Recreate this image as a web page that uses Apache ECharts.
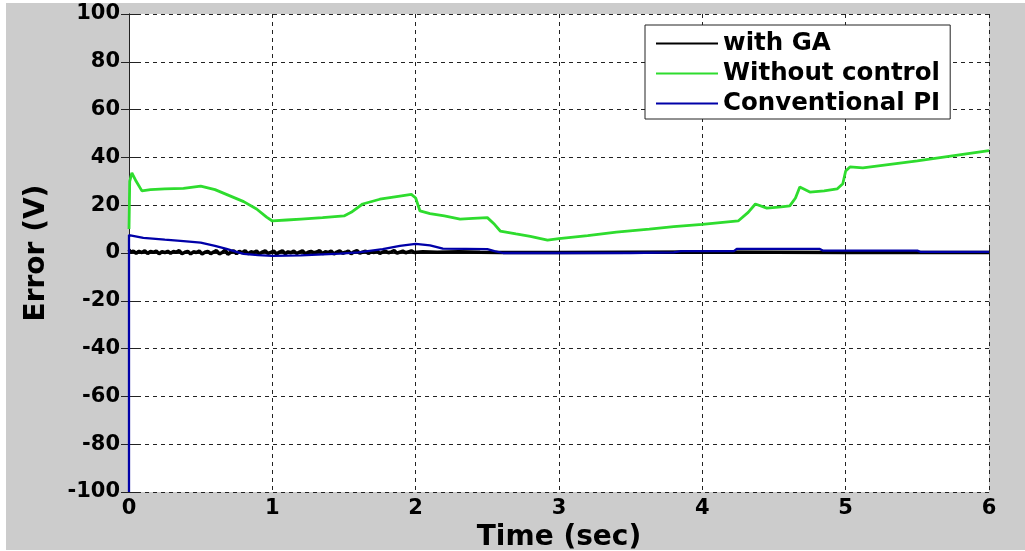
<!DOCTYPE html>
<html>
<head>
<meta charset="utf-8">
<script src="https://cdn.jsdelivr.net/npm/echarts@6/dist/echarts.min.js"></script>
<style>
html,body{margin:0;padding:0;background:#fff;}
#bg{position:absolute;left:6px;top:3px;width:1019px;height:547px;background:#cccccc;}
#chart{position:absolute;left:0;top:0;width:1025px;height:551px;}
</style>
</head>
<body>
<div id="bg"></div>
<div id="chart"></div>
<script>
// ---- data ----
const xTicks = [0, 1, 2, 3, 4, 5, 6];
const yTicks = [-100, -80, -60, -40, -20, 0, 20, 40, 60, 80, 100];

const gaTime = [0, 0.01, 0.03, 0.05, 0.07, 0.09, 0.11, 0.13, 0.15, 0.17, 0.19, 0.21, 0.23, 0.25, 0.27, 0.29, 0.31, 0.33, 0.35, 0.37, 0.39, 0.41, 0.43, 0.45, 0.47, 0.49, 0.51, 0.53, 0.55, 0.57, 0.59, 0.61, 0.63, 0.65, 0.67, 0.69, 0.71, 0.73, 0.75, 0.77, 0.79, 0.81, 0.83, 0.85, 0.87, 0.89, 0.91, 0.93, 0.95, 0.97, 0.99, 1.01, 1.03, 1.05, 1.07, 1.09, 1.11, 1.13, 1.15, 1.17, 1.19, 1.21, 1.23, 1.25, 1.27, 1.29, 1.31, 1.33, 1.35, 1.37, 1.39, 1.41, 1.43, 1.45, 1.47, 1.49, 1.51, 1.53, 1.55, 1.57, 1.59, 1.61, 1.63, 1.65, 1.67, 1.69, 1.71, 1.73, 1.75, 1.77, 1.79, 1.81, 1.83, 1.85, 1.87, 1.89, 1.91, 1.93, 1.95, 1.97, 1.99, 2.05, 2.15, 2.3, 2.45, 2.6, 3.0, 3.5, 4.0, 4.5, 5.0, 5.5, 6.0];
const gaError = [1.4, 0.3, 0.8, -0.1, 0.7, 0.2, 0.9, -0.2, 0.6, 0.3, 0.8, -0.3, 0.5, 0.2, 0.7, -0.1, 0.6, 0.3, 1.0, -0.3, 0.3, 0.7, -0.4, 0.5, 0.2, 0.8, -0.4, 0.3, 0.7, -0.3, 0.4, 1.0, -0.4, 0.2, 1.2, -0.5, 0.3, 0.9, -0.3, 0.7, 0.1, 1.0, -0.4, 0.5, 0.2, 0.8, -0.4, 0.4, 0.9, -0.2, 0.3, 0.8, -0.4, 0.4, 0.9, -0.3, 0.5, 0.1, 0.8, -0.2, 0.4, 0.9, -0.3, 0.3, 0.7, 0.1, 0.4, 1.0, -0.3, 0.5, 0.2, 0.8, -0.4, 0.4, 0.9, -0.1, 0.3, 0.8, -0.3, 0.5, 1.0, -0.1, 0.4, 0.8, -0.2, 0.5, 0.2, 0.9, -0.2, 0.4, 0.7, 0.1, 0.5, 1.0, -0.1, 0.4, 0.8, 0.1, 0.5, 0.9, 0.2, 0.5, 0.3, 0.5, 0.3, 0.2, 0.2, 0.3, 0.4, 0.3, 0.2, 0.2, 0.2];

const noCtrlTime = [0, 0.005, 0.02, 0.05, 0.09, 0.15, 0.25, 0.38, 0.5, 0.6, 0.7, 0.8, 0.89, 0.96, 1.0, 1.1, 1.2, 1.35, 1.5, 1.55, 1.63, 1.75, 1.89, 1.97, 2.0, 2.03, 2.1, 2.2, 2.31, 2.4, 2.5, 2.55, 2.59, 2.7, 2.8, 2.92, 3.0, 3.2, 3.4, 3.63, 3.8, 4.0, 4.25, 4.32, 4.37, 4.45, 4.55, 4.61, 4.65, 4.68, 4.75, 4.85, 4.94, 4.98, 5.0, 5.03, 5.12, 5.5, 6.0];
const noCtrlError = [10, 30, 33.5, 30, 26, 26.5, 26.8, 27, 28, 26.5, 24, 21.5, 18.4, 15, 13.4, 13.8, 14.2, 14.8, 15.5, 17, 20.5, 22.5, 23.8, 24.5, 23, 17.6, 16.5, 15.5, 14.2, 14.5, 14.8, 12, 9.2, 8, 7, 5.4, 6, 7.3, 8.7, 10, 11, 12, 13.4, 17, 20.5, 18.8, 19.3, 19.7, 23, 27.6, 25.5, 26, 26.8, 29, 34.3, 36, 35.6, 38.5, 42.8];

const piTime = [0, 0, 0.01, 0.1, 0.25, 0.38, 0.5, 0.6, 0.68, 0.75, 0.8, 0.9, 1.0, 1.2, 1.47, 1.6, 1.77, 1.89, 2.0, 2.1, 2.19, 2.35, 2.5, 2.55, 2.61, 2.8, 3.0, 3.5, 3.8, 3.85, 4.22, 4.24, 4.82, 4.84, 5.5, 5.52, 6.0];
const piError = [-100, 7.5, 7, 6.3, 5.6, 5, 4.3, 3, 1.7, 0.5, -0.4, -0.9, -1.2, -1, -0.3, 0.3, 1.6, 3, 3.8, 3.2, 1.8, 1.7, 1.6, 0.8, 0, 0, 0, 0, 0.3, 0.8, 0.8, 1.7, 1.7, 1, 1, 0.5, 0.5];

const seriesNames = ['with GA', 'Without control', 'Conventional PI'];
// ---------------------------------------

const zip = (a, b) => a.map((t, i) => [t, b[i]]);
const FONT = 'DejaVu Sans';
const gridDash = { color: '#222', width: 1, type: [4, 4] };
const frameLine = { show: true, lineStyle: { color: '#222', width: 1 } };

const chart = echarts.init(document.getElementById('chart'), null, { renderer: 'canvas' });
chart.setOption({
  animation: false,
  backgroundColor: 'transparent',
  grid: { left: 129, right: 36, top: 14, bottom: 59, show: true, backgroundColor: '#fff', borderWidth: 0, outerBoundsMode: 'none', containLabel: false },
  legend: {
    data: seriesNames,
    orient: 'vertical',
    left: 645, top: 25,
    padding: [6, 10, 3, 11],
    itemGap: 5,
    itemWidth: 62, itemHeight: 2,
    icon: 'rect',
    backgroundColor: '#fff', borderColor: '#222', borderWidth: 1,
    textStyle: { fontFamily: FONT, fontWeight: 'bold', fontSize: 24.5, color: '#000', lineHeight: 25 }
  },
  xAxis: [{
    type: 'value', min: xTicks[0], max: xTicks[xTicks.length - 1], interval: 1,
    position: 'bottom',
    name: 'Time (sec)', nameLocation: 'middle', nameGap: 27,
    nameTextStyle: { fontFamily: FONT, fontWeight: 'bold', fontSize: 28, color: '#000' },
    axisLine: frameLine,
    axisTick: { show: true, inside: true, length: 8, lineStyle: { color: '#222' } },
    axisLabel: { fontFamily: FONT, fontWeight: 'bold', fontSize: 21, color: '#000', margin: 6 },
    splitLine: { show: true, lineStyle: gridDash }
  }, {
    type: 'value', min: xTicks[0], max: xTicks[xTicks.length - 1], interval: 1,
    position: 'top',
    axisLine: frameLine,
    axisTick: { show: true, inside: true, length: 8, lineStyle: { color: '#222' } },
    axisLabel: { show: false },
    splitLine: { show: false }
  }],
  yAxis: [{
    type: 'value', min: yTicks[0], max: yTicks[yTicks.length - 1], interval: 20,
    position: 'left',
    name: 'Error (V)', nameLocation: 'middle', nameGap: 78, nameRotate: 90,
    nameTextStyle: { fontFamily: FONT, fontWeight: 'bold', fontSize: 28, color: '#000' },
    axisLine: frameLine,
    axisTick: { show: true, inside: true, length: 8, lineStyle: { color: '#222' } },
    axisLabel: { fontFamily: FONT, fontWeight: 'bold', fontSize: 21, color: '#000', margin: 9 },
    splitLine: { show: true, lineStyle: gridDash }
  }, {
    type: 'value', min: yTicks[0], max: yTicks[yTicks.length - 1], interval: 20,
    position: 'right',
    axisLine: frameLine,
    axisTick: { show: true, inside: true, length: 8, lineStyle: { color: '#222' } },
    axisLabel: { show: false },
    splitLine: { show: false }
  }],
  series: [{
    name: seriesNames[0], type: 'line', data: zip(gaTime, gaError),
    symbol: 'none', color: '#000', lineStyle: { color: '#000', width: 3.5 }, z: 2
  }, {
    name: seriesNames[1], type: 'line', data: zip(noCtrlTime, noCtrlError),
    symbol: 'none', color: '#2edc2e', lineStyle: { color: '#2edc2e', width: 2.8 }, z: 3
  }, {
    name: seriesNames[2], type: 'line', data: zip(piTime, piError),
    symbol: 'none', color: '#0000a8', lineStyle: { color: '#0000a8', width: 2.3 }, z: 4
  }]
});
</script>
</body>
</html>
